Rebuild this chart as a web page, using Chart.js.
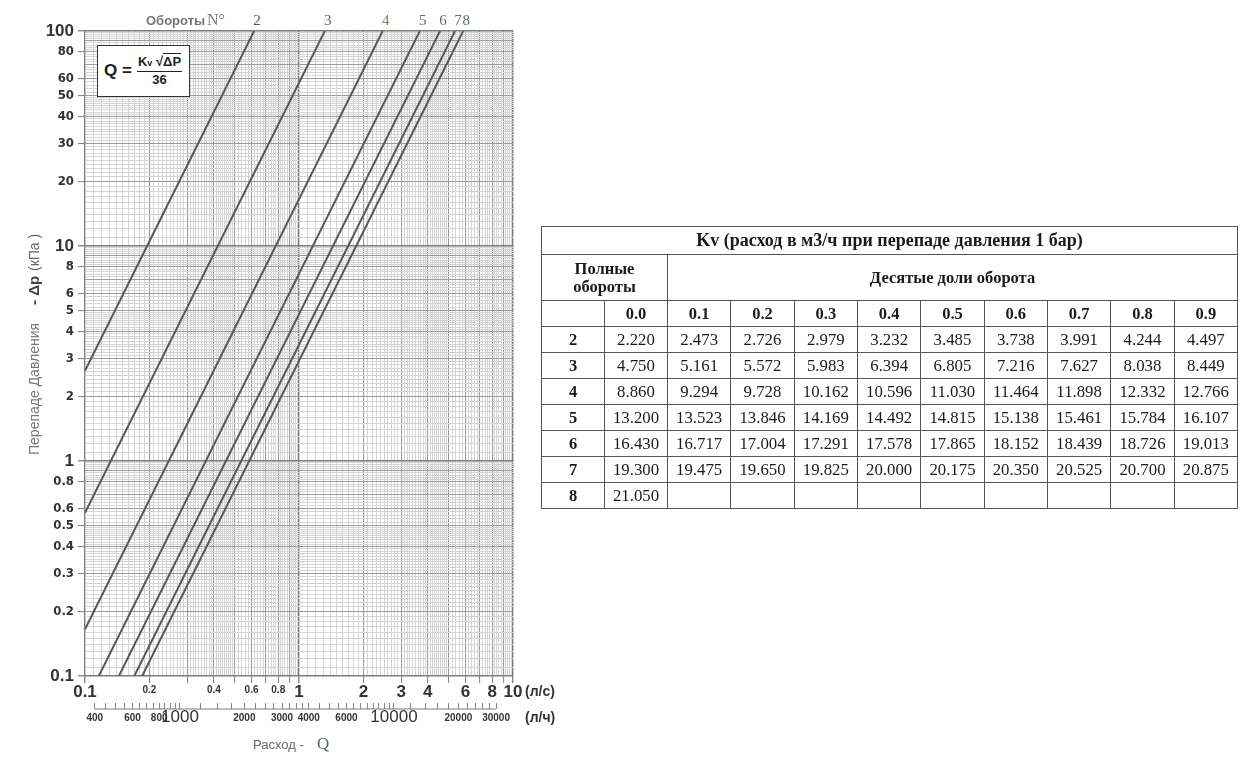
<!DOCTYPE html>
<html>
<head>
<meta charset="utf-8">
<script src="https://cdn.jsdelivr.net/npm/chart.js@4.4.1/dist/chart.umd.min.js"></script>
<style>
  body { margin: 0; background: #fff; width: 1258px; height: 758px; overflow: hidden; position: relative; font-family: 'Liberation Sans', Arial, sans-serif; }
  #wrap { position: absolute; left: 0; top: 0; width: 560px; height: 758px; }
  #formula { position: absolute; left: 97px; top: 45px; width: 93px; height: 52px; box-sizing: border-box; border: 1.5px solid #333; background: #fff;
    display: flex; align-items: center; padding-left: 6px; font-weight: bold; color: #222; }
  #formula .q { font-size: 17px; margin-right: 5px; }
  #formula .frac { display: flex; flex-direction: column; align-items: center; font-size: 13px; line-height: 16px; }
  #formula .num { border-bottom: 1.5px solid #222; padding: 0 1px; }
  #formula .num sub { font-size: 9px; vertical-align: 0; }
  #formula .rad { border-top: 1.2px solid #222; }
  #kv { position: absolute; left: 541px; top: 226px; width: 697px; border-collapse: collapse; table-layout: fixed;
    font-family: 'Liberation Serif', 'Times New Roman', serif; font-size: 16.8px; color: #1a1a1a; }
  #kv td { border: 1px solid #555; text-align: center; padding: 0; height: 25px; }
  #kv .b { font-weight: bold; font-size: 16.5px; }
</style>
</head>
<body>
<div id="wrap"><canvas id="chart" width="560" height="758"></canvas></div>
<div id="formula"><span class="q">Q =</span><span class="frac"><span class="num">K<sub>v</sub> √<span class="rad">ΔP</span></span><span>36</span></span></div>
<table id="kv"></table>
<script>
// turns and Kv table (m3/h at 1 bar)
const turns = [2, 3, 4, 5, 6, 7, 8];
const tenths = ['0.0', '0.1', '0.2', '0.3', '0.4', '0.5', '0.6', '0.7', '0.8', '0.9'];
const kv2 = [2.220, 2.473, 2.726, 2.979, 3.232, 3.485, 3.738, 3.991, 4.244, 4.497];
const kv3 = [4.750, 5.161, 5.572, 5.983, 6.394, 6.805, 7.216, 7.627, 8.038, 8.449];
const kv4 = [8.860, 9.294, 9.728, 10.162, 10.596, 11.030, 11.464, 11.898, 12.332, 12.766];
const kv5 = [13.200, 13.523, 13.846, 14.169, 14.492, 14.815, 15.138, 15.461, 15.784, 16.107];
const kv6 = [16.430, 16.717, 17.004, 17.291, 17.578, 17.865, 18.152, 18.439, 18.726, 19.013];
const kv7 = [19.300, 19.475, 19.650, 19.825, 20.000, 20.175, 20.350, 20.525, 20.700, 20.875];
const kv8 = [21.050];
const kvRows = [kv2, kv3, kv4, kv5, kv6, kv7, kv8];

// line end points: flow Q (l/s) and pressure drop (kPa)
const qStart = [0.1, 0.1, 0.1, 0.116, 0.144, 0.170, 0.185];
const dpStart = [2.63, 0.574, 0.165, 0.1, 0.1, 0.1, 0.1];
const qEnd = [0.617, 1.32, 2.46, 3.67, 4.56, 5.36, 5.85];
const dpEnd = [100, 100, 100, 100, 100, 100, 100];

// tick labels
const xLabels = [0.1, 0.2, 0.4, 0.6, 0.8, 1, 2, 3, 4, 6, 8, 10];
const xBigLabels = [0.1, 1, 2, 3, 4, 6, 8, 10];
const yLabels = [0.1, 0.2, 0.3, 0.4, 0.5, 0.6, 0.8, 1, 2, 3, 4, 5, 6, 8, 10, 20, 30, 40, 50, 60, 80, 100];
const yBigLabels = [0.1, 1, 10, 100];
const lphLabels = [400, 600, 800, 1000, 2000, 3000, 4000, 6000, 10000, 20000, 30000];
const lphBigLabels = [1000, 10000];

const turnColors = ['#555', '#666', '#8a7862', '#666', '#5d6a88', '#5d6a88', '#5d6a88'];

// kv table
const tbl = document.getElementById('kv');
let html = '<colgroup><col style="width:63px"><col style="width:63px">' + '<col>'.repeat(9) + '</colgroup>';
html += '<tr><td colspan="11" class="b" style="height:27px;font-size:18px">Kv (расход в м3/ч при перепаде давления 1 бар)</td></tr>';
html += '<tr><td colspan="2" class="b" style="height:45px;line-height:18px">Полные<br>обороты</td><td colspan="9" class="b">Десятые доли оборота</td></tr>';
html += '<tr><td></td>' + tenths.map(t => '<td class="b">' + t + '</td>').join('') + '</tr>';
kvRows.forEach((row, i) => {
  html += '<tr><td class="b">' + turns[i] + '</td>';
  for (let j = 0; j < 10; j++) html += '<td>' + (row[j] !== undefined ? row[j].toFixed(3) : '') + '</td>';
  html += '</tr>';
});
tbl.innerHTML = html;

// log paper grid
function gridValues(decades) {
  const out = [];
  decades.forEach(d => {
    for (let k = 10; k < 50; k++) out.push(parseFloat((d * k / 10).toPrecision(6)));
    for (let k = 50; k < 100; k += 2) out.push(parseFloat((d * k / 10).toPrecision(6)));
  });
  out.push(parseFloat((decades[decades.length - 1] * 10).toPrecision(6)));
  return out;
}
const xGrid = gridValues([0.1, 1]);
const yGrid = gridValues([0.1, 1, 10]);
const lphTicks = [];
for (let v = 400; v <= 1000; v += 50) lphTicks.push(v);
for (let v = 1250; v <= 4000; v += 250) lphTicks.push(v);
for (let v = 4500; v <= 10000; v += 500) lphTicks.push(v);
for (let v = 12000; v <= 30000; v += 2000) lphTicks.push(v);

function kind(v) {
  const e = Math.floor(Math.log10(v) + 1e-9);
  const m = Math.round(v / Math.pow(10, e) * 100) / 100;
  if (m === 1) return 'decade';
  if (Number.isInteger(m)) return 'major';
  return 'minor';
}
const has = (list, v) => list.some(l => Math.abs(l - v) < l * 1e-6);
const gridColor = ctx => { const k = kind(ctx.tick.value); return k === 'decade' ? '#7d7d7d' : k === 'major' ? '#9c9c9c' : '#d4d4d4'; };
const gridWidth = ctx => { const k = kind(ctx.tick.value); return k === 'decade' ? 1.4 : k === 'major' ? 1.1 : 1; };

const narrow = "'Liberation Sans Narrow', 'DejaVu Sans Condensed', 'Liberation Sans', sans-serif";
const plain = "'Liberation Sans', Arial, sans-serif";

const datasets = turns.map((t, i) => ({
  label: String(t),
  data: [{ x: qStart[i], y: dpStart[i] }, { x: qEnd[i], y: dpEnd[i] }],
  showLine: true,
  borderColor: '#585858',
  borderWidth: 2,
  pointRadius: 0,
  xAxisID: 'x',
  yAxisID: 'y'
}));

const extras = {
  id: 'extras',
  afterDraw(chart) {
    const c = chart.ctx;
    const x = chart.scales.x, x2 = chart.scales.x2;
    c.save();
    // l/h axis line under its tick marks
    c.strokeStyle = '#777';
    c.lineWidth = 1;
    c.beginPath();
    c.moveTo(x2.getPixelForValue(400), x2.top + 6);
    c.lineTo(x2.getPixelForValue(30000), x2.top + 6);
    c.stroke();
    // units
    c.fillStyle = '#333';
    c.font = 'bold 14px ' + plain;
    c.textAlign = 'left';
    c.textBaseline = 'middle';
    c.fillText('(л/с)', chart.chartArea.right + 12, 692);
    c.fillText('(л/ч)', chart.chartArea.right + 12, 718);
    // turn numbers over line ends
    c.font = "15px 'Liberation Serif', serif";
    c.textAlign = 'center';
    turns.forEach((t, i) => {
      c.fillStyle = turnColors[i];
      c.fillText(String(t), x.getPixelForValue(qEnd[i]) + 3, 21);
    });
    c.textAlign = 'left';
    c.fillStyle = '#777';
    c.font = 'bold 13px ' + plain;
    c.fillText('Обороты', 146, 21);
    c.font = "16px 'Liberation Serif', serif";
    c.fillText('N°', 207, 21);
    // flow caption
    c.fillStyle = '#666';
    c.font = '13px ' + plain;
    c.fillText('Расход -', 253, 745);
    c.fillStyle = '#56607c';
    c.font = "17px 'Liberation Serif', serif";
    c.fillText('Q', 317, 745);
    // pressure caption, rotated
    c.translate(35, 455);
    c.rotate(-Math.PI / 2);
    c.fillStyle = '#777';
    c.font = '14px ' + plain;
    c.fillText('Перепаде Давления', 0, 0);
    c.fillStyle = '#444';
    c.font = 'bold 15px ' + plain;
    c.fillText('- Δp', 150, 0);
    c.fillStyle = '#666';
    c.font = '14px ' + plain;
    c.fillText('(кПа )', 184, 0);
    c.restore();
  }
};

new Chart(document.getElementById('chart'), {
  type: 'scatter',
  data: { datasets },
  options: {
    responsive: false,
    animation: false,
    layout: { padding: { left: 0, top: 31, right: 47, bottom: 25 } },
    plugins: { legend: { display: false }, tooltip: { enabled: false } },
    scales: {
      x: {
        type: 'logarithmic', position: 'bottom', min: 0.1, max: 10, weight: 0,
        afterBuildTicks: s => { s.ticks = xGrid.map(v => ({ value: v })); },
        afterFit: s => { s.height = 27; },
        border: { display: false },
        grid: { color: gridColor, lineWidth: gridWidth, tickLength: 7,
          tickColor: ctx => kind(ctx.tick.value) === 'minor' ? 'rgba(0,0,0,0)' : '#888' },
        ticks: {
          autoSkip: false, maxRotation: 0, padding: 0, color: '#333',
          font: ctx => has(xBigLabels, ctx.tick.value)
            ? { family: plain, size: 17, weight: 'bold', lineHeight: 1.1 }
            : { family: plain, size: 10, weight: 'bold', lineHeight: 1.4 },
          callback: v => has(xLabels, v) ? String(v) : ''
        }
      },
      x2: {
        type: 'logarithmic', position: 'bottom', min: 360, max: 36000, weight: 1,
        afterBuildTicks: s => { s.ticks = lphTicks.map(v => ({ value: v })); },
        afterFit: s => { s.height = 30; },
        border: { display: false },
        grid: { drawOnChartArea: false, tickLength: 6, tickColor: '#888' },
        ticks: {
          autoSkip: false, maxRotation: 0, padding: 0, color: '#333',
          font: ctx => has(lphBigLabels, ctx.tick.value)
            ? { family: plain, size: 17, lineHeight: 1.0 }
            : { family: plain, size: 10, weight: 'bold', lineHeight: 1.8 },
          callback: v => has(lphLabels, v) ? String(v) : ''
        }
      },
      y: {
        type: 'logarithmic', min: 0.1, max: 100,
        afterBuildTicks: s => { s.ticks = yGrid.map(v => ({ value: v })); },
        afterFit: s => { s.width = 85; },
        border: { display: false },
        grid: { color: gridColor, lineWidth: gridWidth, tickLength: 7,
          tickColor: ctx => has(yLabels, ctx.tick.value) ? '#888' : 'rgba(0,0,0,0)' },
        ticks: {
          autoSkip: false, padding: 4, color: '#333',
          font: ctx => has(yBigLabels, ctx.tick.value) ? { family: plain, size: 17, weight: 'bold' } : { family: narrow, size: 13, weight: 'bold' },
          callback: v => has(yLabels, v) ? String(v) : ''
        }
      }
    }
  },
  plugins: [extras]
});
</script>
</body>
</html>
